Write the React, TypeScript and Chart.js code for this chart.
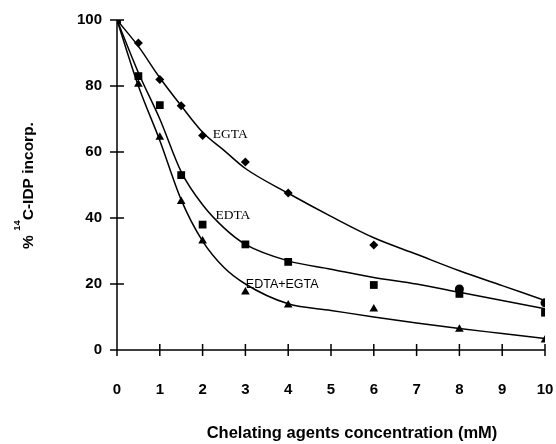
import React, { useEffect, useRef } from "react";
import { Chart, registerables } from "chart.js";

Chart.register(...registerables);

// ---- data ----
const concentrations = [0, 0.5, 1, 1.5, 2, 3, 4, 6, 8, 10];
const egtaValues = [100, 93, 82, 74, 65, 57, 47.6, 31.8, 18.5, 14.3];
const edtaValues = [100, 83, 74.2, 53, 38, 32, 26.7, 19.7, 17, 11.3];
const bothValues = [100, 80.5, 64.5, 45, 33, 17.6, 13.6, 12.4, 6.3, 3];
const egtaMarkers = ["rectRot", "rectRot", "rectRot", "rectRot", "rectRot", "rectRot", "rectRot", "rectRot", "circle", "circle"];

// fitted curves
const fitX = [0, 0.5, 1, 1.5, 2, 2.5, 3, 4, 5, 6, 7, 8, 9, 10];
const egtaFit = [100, 92, 82.5, 74, 66, 60.5, 55, 47.5, 40.5, 34, 29, 24, 19.5, 15];
const edtaFit = [100, 84, 70, 54, 44, 37, 32, 27, 24.5, 22, 20, 17.5, 15, 12.5];
const bothFit = [100, 80, 63.5, 45.5, 33, 25, 20, 14, 12, 10, 8.2, 6.5, 5, 3.5];

const curveLabelTexts = ["EGTA", "EDTA", "EDTA+EGTA"];
const curveLabelX = [2.24, 2.3, 3.01];
const curveLabelY = [65.2, 40.9, 19.7];

const xTitle = "Chelating agents concentration (mM)";
const yTitleMain = "C-IDP incorp.";
const yTitlePrefix = "% ";
const yTitleSup = "14";

const SANS = '"Liberation Sans", Arial, sans-serif';
const SERIF = '"Liberation Serif", "Times New Roman", serif';

const pts = (xs: number[], ys: number[]) => xs.map((x, i) => ({ x, y: ys[i] }));

const decoPlugin = {
  id: "deco",
  beforeDatasetsDraw(chart: any) {
    const { ctx, chartArea, scales } = chart;
    const { left, right, top, bottom } = chartArea;
    const xs = scales.x;
    const ys = scales.y;
    ctx.save();
    ctx.strokeStyle = "#000";
    ctx.lineWidth = 1.5;
    ctx.beginPath();
    ctx.moveTo(left, top);
    ctx.lineTo(left, bottom);
    ctx.lineTo(right, bottom);
    ys.ticks.forEach((t: any) => {
      const py = ys.getPixelForValue(t.value);
      ctx.moveTo(left - 7, py);
      ctx.lineTo(left + 7, py);
    });
    xs.ticks.forEach((t: any) => {
      const px = xs.getPixelForValue(t.value);
      ctx.moveTo(px, bottom - 6);
      ctx.lineTo(px, bottom + 6);
    });
    ctx.stroke();
    ctx.restore();
  },
  afterDraw(chart: any) {
    const { ctx, scales } = chart;
    const xs = scales.x;
    const ys = scales.y;
    ctx.save();
    ctx.fillStyle = "#000";
    ctx.textBaseline = "middle";
    ctx.textAlign = "left";
    curveLabelTexts.forEach((txt, i) => {
      ctx.font = i < 2 ? `13.5px ${SERIF}` : `12.5px ${SANS}`;
      ctx.fillText(txt, xs.getPixelForValue(curveLabelX[i]), ys.getPixelForValue(curveLabelY[i]));
    });

    // x title
    ctx.font = `bold 16.5px ${SANS}`;
    ctx.textAlign = "center";
    ctx.fillText(xTitle, 352, 433);

    // y title with superscript
    const mainFont = `bold 15.5px ${SANS}`;
    const supFont = `bold 9.5px ${SANS}`;
    ctx.font = mainFont;
    const wPre = ctx.measureText(yTitlePrefix).width;
    const wMain = ctx.measureText(yTitleMain).width;
    ctx.font = supFont;
    const wSup = ctx.measureText(yTitleSup).width;
    const W = wPre + wSup + wMain;
    ctx.translate(0, 185.5);
    ctx.rotate(-Math.PI / 2);
    ctx.textAlign = "left";
    ctx.textBaseline = "alphabetic";
    let u = -W / 2;
    ctx.font = mainFont;
    ctx.fillText(yTitlePrefix, u, 33);
    u += wPre;
    ctx.font = supFont;
    ctx.fillText(yTitleSup, u, 20);
    u += wSup;
    ctx.font = mainFont;
    ctx.fillText(yTitleMain, u, 33);
    ctx.restore();
  },
};

export default function App() {
  const ref = useRef<HTMLCanvasElement>(null);
  useEffect(() => {
    if (!ref.current) return;
    const lineDs = (data: number[]) => ({
      type: "line" as const,
      data: pts(fitX, data),
      showLine: true,
      borderColor: "#000",
      borderWidth: 1.5,
      pointRadius: 0,
      cubicInterpolationMode: "monotone" as const,
      fill: false,
    });
    const chart = new Chart(ref.current, {
      type: "scatter",
      data: {
        datasets: [
          lineDs(egtaFit),
          lineDs(edtaFit),
          lineDs(bothFit),
          {
            label: "EGTA",
            data: pts(concentrations, egtaValues),
            pointStyle: egtaMarkers as any,
            pointRadius: 4.5,
            backgroundColor: "#000",
            borderColor: "#000",
            borderWidth: 0,
          },
          {
            label: "EDTA",
            data: pts(concentrations, edtaValues),
            pointStyle: "rect",
            pointRadius: 5.5,
            backgroundColor: "#000",
            borderColor: "#000",
            borderWidth: 0,
          },
          {
            label: "EDTA+EGTA",
            data: pts(concentrations, bothValues),
            pointStyle: "triangle",
            pointRadius: 5,
            backgroundColor: "#000",
            borderColor: "#000",
            borderWidth: 0,
          },
        ] as any,
      },
      options: {
        animation: false,
        responsive: false,
        maintainAspectRatio: false,
        layout: { padding: { top: 20, right: 11, left: 0, bottom: 0 } },
        plugins: { legend: { display: false }, tooltip: { enabled: false } },
        scales: {
          x: {
            type: "linear",
            min: 0,
            max: 10,
            grid: { display: false },
            border: { display: false },
            ticks: { stepSize: 1, padding: 23, color: "#000", font: { family: SANS, size: 15, weight: "bold" } },
            afterFit: (s: any) => {
              s.height = 94;
              s.paddingLeft = 0;
              s.paddingRight = 0;
            },
          },
          y: {
            min: 0,
            max: 100,
            grid: { display: false },
            border: { display: false },
            ticks: { stepSize: 20, padding: 7, color: "#000", font: { family: SANS, size: 15, weight: "bold" } },
            afterFit: (s: any) => {
              s.width = 117;
              s.paddingTop = 0;
              s.paddingBottom = 0;
            },
          },
        },
      } as any,
      plugins: [decoPlugin],
    });
    return () => chart.destroy();
  }, []);
  return (
    <div style={{ position: "fixed", left: 0, top: 0, width: 556, height: 444, background: "#fff" }}>
      <canvas ref={ref} width={556} height={444} style={{ display: "block" }} />
    </div>
  );
}
